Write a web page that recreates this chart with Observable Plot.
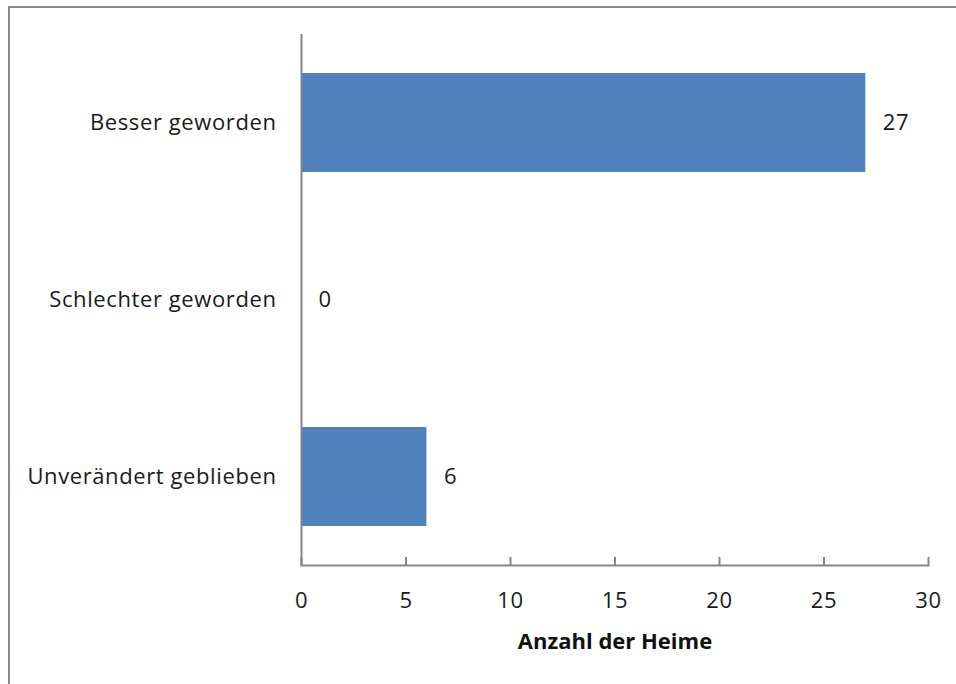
<!DOCTYPE html>
<html>
<head>
<meta charset="utf-8">
<script src="https://cdn.jsdelivr.net/npm/d3@7"></script>
<script src="https://cdn.jsdelivr.net/npm/@observablehq/plot@0.6"></script>
<style>
  html, body { margin: 0; padding: 0; background: #fff; }
  body { width: 956px; height: 684px; position: relative; overflow: hidden; }
  #border { position: absolute; left: 8px; top: 6px; width: 1000px; height: 800px; border-left: 2px solid #8a8a8a; border-top: 2px solid #8a8a8a; box-sizing: border-box; }
  #chart { position: absolute; left: 0; top: 0; }
  svg { font-family: "Open Sans", sans-serif; }
  .lbl text { letter-spacing: 0.6px; }
</style>
</head>
<body>
<div id="border"></div>
<div id="chart"></div>
<script>
const categories = ["Besser geworden", "Schlechter geworden", "Unverändert geblieben"];
const values = [27, 0, 6];
const xTicks = [0, 5, 10, 15, 20, 25, 30];
const xLabel = "Anzahl der Heime";

const data = categories.map((c, i) => ({category: c, value: values[i]}));
const axisColor = "#868686";
const barColor = "#4F81BD";

const chart = Plot.plot({
  width: 956,
  height: 684,
  marginLeft: 301,
  marginRight: 28,
  marginTop: 34,
  marginBottom: 119,
  style: {fontFamily: "'Open Sans', sans-serif", fontSize: "22px", color: "#1a1a1a", background: "transparent"},
  x: {domain: [0, 30], ticks: xTicks},
  y: {domain: categories, paddingInner: 0.44, paddingOuter: 0.22},
  marks: [
    Plot.barX(data, {x: "value", y: "category", fill: barColor}),
    Plot.ruleX(xTicks, {x: d => d, stroke: axisColor, strokeWidth: 2, insetTop: 523}),
    Plot.ruleX([0], {stroke: axisColor, strokeWidth: 2}),
    Plot.frame({anchor: "bottom", stroke: axisColor, strokeWidth: 2}),
    Plot.text(data, {x: "value", y: "category", text: d => String(d.value), textAnchor: "start", dx: 17, fontSize: 22, fill: "#1a1a1a", className: "lbl"}),
    Plot.axisY({tickSize: 0, tickPadding: 25, label: null, fontSize: 22, className: "lbl"}),
    Plot.axisX({tickSize: 0, tickPadding: 27, ticks: xTicks, tickFormat: d => String(d), fontSize: 22, label: null, className: "lbl"}),
    Plot.text([xLabel], {frameAnchor: "bottom", dy: 83, text: d => d, fontWeight: "bold", fontSize: 22, fill: "#111"})
  ]
});
document.getElementById("chart").appendChild(chart);
</script>
</body>
</html>
